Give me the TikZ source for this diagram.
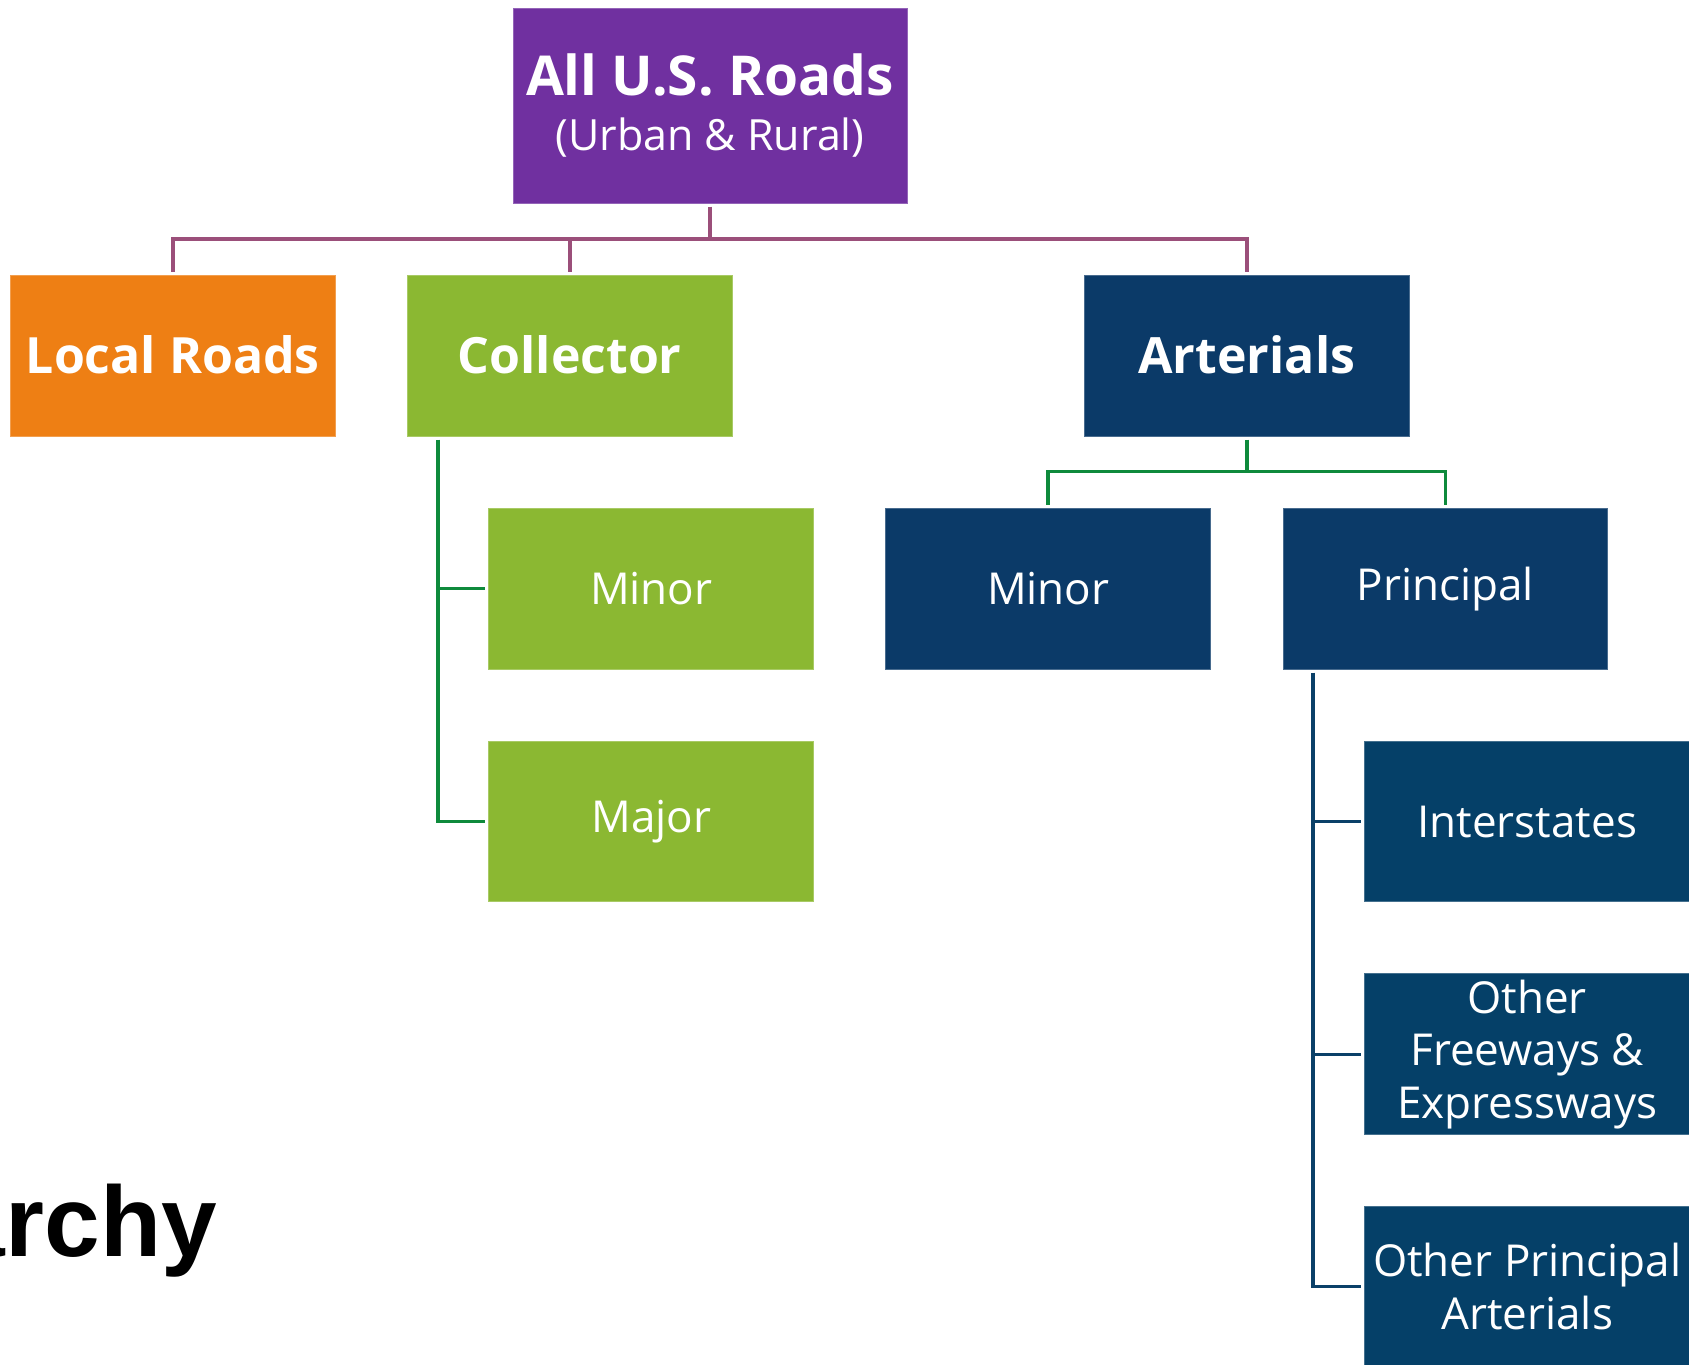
\documentclass[tikz,border=0pt]{standalone}
\usepackage{fontspec}
\setmainfont{Open Sans}
\newfontfamily\titlefont{Liberation Sans}
\definecolor{cpurple}{HTML}{7030A0}
\definecolor{corange}{HTML}{EE7F14}
\definecolor{cgreen}{HTML}{8BB832}
\definecolor{cnavy}{HTML}{0B3A68}
\definecolor{cnavyb}{HTML}{054068}
\definecolor{lpurple}{HTML}{9B4F7A}
\definecolor{lgreen}{HTML}{0E8A3C}
\definecolor{lnavy}{HTML}{0A4068}
\tikzset{
  box/.style={rectangle, inner sep=0pt, minimum width=324.5pt, minimum height=160.7pt,
    text=white, align=center, line width=1pt},
  reg/.style={font=\fontsize{44}{52.5}\selectfont},
  bld/.style={font=\fontsize{50}{55}\selectfont\bfseries},
  conn/.style={line width=3.5pt},
}
\begin{document}
\begin{tikzpicture}[x=1pt,y=-1pt]
\useasboundingbox (0,0) rectangle (1689,1365);
% nodes
\node[box, fill=cpurple, draw=cpurple!75!white, minimum width=394pt, minimum height=195pt,
  font=\fontsize{43}{55}\selectfont] (top) at (710,105.5)
  {\raisebox{-3pt}{\parbox{380pt}{\centering{\fontsize{55}{55}\selectfont\bfseries All U.S. Roads}\\(Urban \& Rural)}}};
\node[box, bld, fill=corange, draw=corange!75!white] (local) at (172.8,355.7) {\raisebox{3pt}{Local Roads}};
\node[box, bld, fill=cgreen, draw=cgreen!75!white] (collector) at (569.75,355.7) {\raisebox{3pt}{Collector}};
\node[box, bld, fill=cnavy, draw=cnavy!75!white] (arterials) at (1246.75,355.7) {\raisebox{3pt}{Arterials}};
\node[box, reg, fill=cgreen, draw=cgreen!75!white] (cminor) at (651.2,588.7) {Minor};
\node[box, reg, fill=cgreen, draw=cgreen!75!white] (cmajor) at (651.2,821.5) {Major};
\node[box, reg, fill=cnavy, draw=cnavy!75!white] (aminor) at (1048.2,588.7) {Minor};
\node[box, reg, fill=cnavy, draw=cnavy!75!white] (principal) at (1445.3,588.7) {Principal};
\node[box, reg, fill=cnavyb, draw=cnavyb!75!white] (inter) at (1527.2,821.5) {Interstates};
\node[box, reg, fill=cnavyb, draw=cnavyb!75!white] (freeways) at (1527.2,1054.3) {Other\\Freeways \&\\Expressways};
\node[box, reg, fill=cnavyb, draw=cnavyb!75!white] (otherpa) at (1527.2,1286.6) {Other Principal\\Arterials};
\node[anchor=base east, inner sep=0pt, font=\titlefont\fontsize{100}{120}\selectfont\bfseries] (title) at (217,1256.7) {archy};
% connector coordinates
\coordinate (busT) at (710,239);
\coordinate (busA) at (1246.75,471.7);
\coordinate (colL) at ([xshift=31pt]collector.south west);
\coordinate (prinL) at ([xshift=30.5pt]principal.south west);
% top level connectors
\draw[conn, lpurple, shorten <=3pt] (top.south) -- (busT);
\draw[conn, lpurple, shorten >=3pt] (busT) -| (local.north);
\draw[conn, lpurple, shorten >=3pt] (busT) -| (collector.north);
\draw[conn, lpurple, shorten >=3pt] (busT) -| (arterials.north);
% arterials connectors
\draw[conn, lgreen, shorten <=3pt] (arterials.south) -- (busA);
\draw[conn, lgreen, shorten >=3pt] (busA) -| (aminor.north);
\draw[conn, lgreen, shorten >=3pt] (busA) -| (principal.north);
% collector connectors
\draw[conn, lgreen, shorten <=3pt] (colL) |- ([xshift=-3pt]cmajor.west);
\draw[conn, lgreen, shorten >=3pt] (colL |- cminor.west) -- (cminor.west);
% principal connectors
\draw[conn, lnavy, shorten <=3pt] (prinL) |- ([xshift=-3pt]otherpa.west);
\draw[conn, lnavy, shorten >=3pt] (prinL |- inter.west) -- (inter.west);
\draw[conn, lnavy, shorten >=3pt] (prinL |- freeways.west) -- (freeways.west);
\end{tikzpicture}
\end{document}
